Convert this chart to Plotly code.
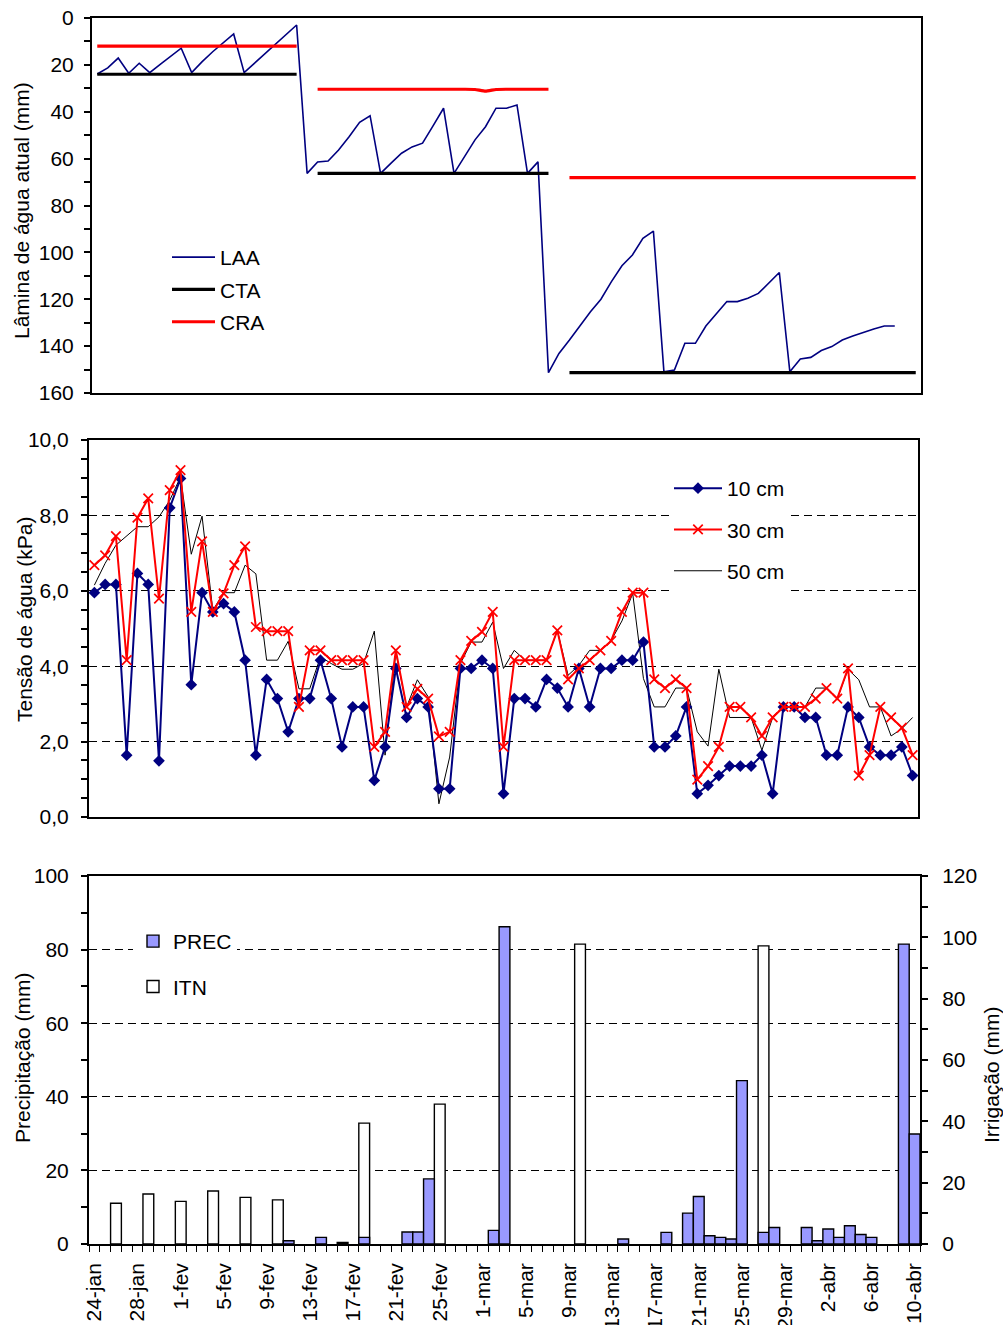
import plotly.graph_objects as go

W, H = 1003, 1325
FONT = "Liberation Sans, Arial, sans-serif"
FS = 21

# ---------------- Data ----------------
# Top panel (79 daily categories)
dia_top = list(range(79))
laa = [23.9, 21.3, 17.1, 23.6, 19.3, 23.3, 19.8, 16.4, 12.9, 23.3,
       18.6, 14.4, 10.5, 6.8, 23.3, 19.2, 15.1, 11.1, 7.0, 3.0,
       66.3, 61.4, 61.0, 56.3, 50.7, 44.5, 41.7, 66.3, 61.9, 57.7,
       55.0, 53.4, 46.0, 38.5, 66.3, 59.2, 52.0, 46.4, 38.5, 38.5,
       37.1, 66.3, 61.4, 151.3, 143.1, 137.4, 131.3, 125.3, 120.0, 112.5,
       105.7, 101.1, 94.0, 90.9, 150.9, 150.2, 138.8, 138.8, 131.4, 126.0,
       121.0, 121.0, 119.6, 117.5, 113.2, 108.6, 150.9, 145.5, 144.8, 141.9,
       140.2, 137.4, 135.7, 134.1, 132.7, 131.4, 131.4]
cta = [24.0, 24.0, 24.0, 24.0, 24.0, 24.0, 24.0, 24.0, 24.0, 24.0,
       24.0, 24.0, 24.0, 24.0, 24.0, 24.0, 24.0, 24.0, 24.0, 24.0,
       None, 66.3, 66.3, 66.3, 66.3, 66.3, 66.3, 66.3, 66.3, 66.3,
       66.3, 66.3, 66.3, 66.3, 66.3, 66.3, 66.3, 66.3, 66.3, 66.3,
       66.3, 66.3, 66.3, 66.3, None, 151.3, 151.3, 151.3, 151.3, 151.3,
       151.3, 151.3, 151.3, 151.3, 151.3, 151.3, 151.3, 151.3, 151.3, 151.3,
       151.3, 151.3, 151.3, 151.3, 151.3, 151.3, 151.3, 151.3, 151.3, 151.3,
       151.3, 151.3, 151.3, 151.3, 151.3, 151.3, 151.3, 151.3, 151.3]
cra = [12.0, 12.0, 12.0, 12.0, 12.0, 12.0, 12.0, 12.0, 12.0, 12.0,
       12.0, 12.0, 12.0, 12.0, 12.0, 12.0, 12.0, 12.0, 12.0, 12.0,
       None, 30.4, 30.4, 30.4, 30.4, 30.4, 30.4, 30.4, 30.4, 30.4,
       30.4, 30.4, 30.4, 30.4, 30.4, 30.4, 30.5, 31.2, 30.5, 30.4,
       30.4, 30.4, 30.4, 30.4, None, 68.1, 68.1, 68.1, 68.1, 68.1,
       68.1, 68.1, 68.1, 68.1, 68.1, 68.1, 68.1, 68.1, 68.1, 68.1,
       68.1, 68.1, 68.1, 68.1, 68.1, 68.1, 68.1, 68.1, 68.1, 68.1,
       68.1, 68.1, 68.1, 68.1, 68.1, 68.1, 68.1, 68.1, 68.1]

# Middle + bottom panels (77 days: 24-jan .. 10-abr)
dias = list(range(77))
t10 = [5.95, 6.17, 6.17, 1.64, 6.46, 6.17, 1.49, 8.2, 8.98, 3.51,
       5.95, 5.44, 5.66, 5.44, 4.16, 1.64, 3.65, 3.14, 2.26, 3.14,
       3.14, 4.16, 3.14, 1.86, 2.92, 2.92, 0.97, 1.86, 3.94, 2.64,
       3.14, 2.92, 0.75, 0.75, 3.94, 3.94, 4.16, 3.94, 0.62, 3.14,
       3.14, 2.92, 3.65, 3.42, 2.92, 3.94, 2.92, 3.94, 3.94, 4.16,
       4.16, 4.64, 1.86, 1.86, 2.15, 2.92, 0.62, 0.84, 1.1, 1.35,
       1.35, 1.35, 1.64, 0.62, 2.92, 2.92, 2.64, 2.64, 1.64, 1.64,
       2.92, 2.64, 1.86, 1.64, 1.64, 1.86, 1.1]
t30 = [6.68, 6.94, 7.45, 4.16, 7.94, 8.45, 5.79, 8.67, 9.2, 5.44,
       7.31, 5.44, 5.93, 6.68, 7.18, 5.04, 4.93, 4.93, 4.93, 2.92,
       4.42, 4.42, 4.16, 4.16, 4.16, 4.16, 1.86, 2.26, 4.42, 2.92,
       3.4, 3.14, 2.14, 2.26, 4.16, 4.67, 4.91, 5.44, 1.86, 4.16,
       4.16, 4.16, 4.16, 4.95, 3.65, 3.94, 4.16, 4.42, 4.67, 5.44,
       5.95, 5.95, 3.65, 3.42, 3.65, 3.42, 0.99, 1.35, 1.86, 2.92,
       2.92, 2.64, 2.15, 2.64, 2.92, 2.92, 2.92, 3.14, 3.42, 3.14,
       3.94, 1.1, 1.64, 2.92, 2.64, 2.37, 1.64]
t50 = [6.15, 6.73, 7.21, 7.45, 7.7, 7.7, 7.96, 8.4, 9.02, 6.97,
       7.98, 5.48, 5.95, 5.95, 6.68, 6.45, 4.16, 4.16, 4.66, 3.4,
       3.4, 4.25, 4.07, 3.92, 3.92, 4.07, 4.93, 1.64, 4.37, 2.92,
       3.64, 3.19, 0.35, 1.59, 4.07, 4.64, 4.64, 5.17, 3.94, 4.42,
       4.16, 4.16, 4.16, 4.95, 3.76, 4.02, 4.42, 4.42, 4.68, 5.2,
       5.93, 3.67, 2.92, 2.92, 3.42, 3.42, 2.26, 1.88, 3.92, 2.64,
       2.64, 2.64, 1.77, 2.64, 2.92, 2.92, 2.92, 3.42, 3.42, 3.14,
       3.92, 3.64, 2.92, 2.92, 2.15, 2.34, 2.64]

prec = [0, 0, 0, 0, 0, 0, 0, 0, 0, 0,
        0, 0, 0, 0, 0, 0, 0, 0, 0.9, 0,
        0, 1.8, 0, 0.4, 0, 1.8, 0, 0, 0, 3.25,
        3.25, 17.7, 0, 0, 0, 0, 0, 3.7, 86.2, 0,
        0, 0, 0, 0, 0, 0, 0, 0, 0, 1.35,
        0, 0, 0, 3.15, 0, 8.4, 12.9, 2.25, 1.8, 1.35,
        44.4, 0, 3.15, 4.5, 0, 0, 4.5, 0.9, 4.07, 1.8,
        4.97, 2.6, 1.8, 0, 0, 81.5, 29.9]
itn = [0, 0, 13.3, 0, 0, 16.3, 0, 0, 13.9, 0,
       0, 17.3, 0, 0, 15.2, 0, 0, 14.4, 0, 0,
       0, 0, 0, 0, 0, 39.4, 0, 0, 0, 0,
       0, 0, 45.6, 0, 0, 0, 0, 0, 0, 0,
       0, 0, 0, 0, 0, 97.8, 0, 0, 0, 0,
       0, 0, 0, 0, 0, 0, 0, 0, 0, 0,
       0, 0, 97.2, 0, 0, 0, 0, 0, 0, 0,
       0, 0, 0, 0, 0, 0, 0]

tick_pos = [0, 4, 8, 12, 16, 20, 24, 28, 32, 36, 40, 44, 48, 52, 56, 60, 64, 68, 72, 76]
tick_lab = ["24-jan", "28-jan", "1-fev", "5-fev", "9-fev", "13-fev", "17-fev",
            "21-fev", "25-fev", "1-mar", "5-mar", "9-mar", "13-mar", "17-mar",
            "21-mar", "25-mar", "29-mar", "2-abr", "6-abr", "10-abr"]

# ---------------- Helpers ----------------
def xd(a, b):
    return [a / W, b / W]

def yd(top, bottom):
    return [1 - bottom / H, 1 - top / H]

NAVY = "#000080"
RED = "#FF0000"

fig = go.Figure()

# Top panel
fig.add_trace(go.Scatter(x=dia_top[:len(laa)], y=laa, name="LAA", mode="lines",
                         line=dict(color=NAVY, width=1.6), xaxis="x", yaxis="y",
                         legend="legend", legendgroup="a"))
fig.add_trace(go.Scatter(x=dia_top, y=cta, name="CTA", mode="lines",
                         line=dict(color="black", width=3.2), xaxis="x", yaxis="y",
                         legend="legend", legendgroup="b"))
fig.add_trace(go.Scatter(x=dia_top, y=cra, name="CRA", mode="lines",
                         line=dict(color=RED, width=3.2, shape="spline", smoothing=0.4),
                         xaxis="x", yaxis="y", legend="legend", legendgroup="c"))

# Middle panel
fig.add_trace(go.Scatter(x=dias, y=t50, name="50 cm", mode="lines",
                         line=dict(color="black", width=1), xaxis="x2", yaxis="y2",
                         legend="legend2", legendgroup="f", legendrank=3))
fig.add_trace(go.Scatter(x=dias, y=t10, name="10 cm", mode="lines+markers",
                         line=dict(color=NAVY, width=2),
                         marker=dict(symbol="diamond", size=9, color=NAVY),
                         xaxis="x2", yaxis="y2", legend="legend2", legendgroup="d", legendrank=1))
fig.add_trace(go.Scatter(x=dias, y=t30, name="30 cm", mode="lines+markers",
                         line=dict(color=RED, width=2),
                         marker=dict(symbol="x-thin", size=9.5, line=dict(color=RED, width=1.7)),
                         xaxis="x2", yaxis="y2", legend="legend2", legendgroup="e", legendrank=2))

# Bottom panel
fig.add_trace(go.Bar(x=dias, y=[v if v else None for v in prec], name="PREC", width=1,
                     marker=dict(color="#9999FF", line=dict(color="black", width=1.4)),
                     xaxis="x3", yaxis="y4", legend="legend3", legendgroup="g", legendrank=1))
fig.add_trace(go.Bar(x=dias, y=[v if v else None for v in itn], name="ITN", width=1,
                     marker=dict(color="white", line=dict(color="black", width=1.4)),
                     xaxis="x3", yaxis="y3", legend="legend3", legendgroup="h", legendrank=2))

tickfont = dict(family=FONT, size=FS, color="black")
axline = dict(showline=True, linecolor="black", linewidth=2, zeroline=False, automargin=False)

fig.update_layout(
    width=W, height=H,
    margin=dict(l=0, r=0, t=0, b=0, autoexpand=False),
    paper_bgcolor="white", plot_bgcolor="white",
    font=dict(family=FONT, size=FS, color="black"),
    separators=",.",
    barmode="overlay",
    showlegend=True,
    xaxis=dict(domain=xd(92, 921), anchor="y", range=[-0.5, 78.5], mirror=True,
               ticks="", showticklabels=False, showgrid=False, **axline),
    yaxis=dict(domain=yd(18, 393), anchor="x", range=[160, 0], dtick=20, mirror=True,
               ticks="outside", ticklen=6, tickwidth=1.5, tickcolor="black",
               minor=dict(dtick=10, ticks="outside", ticklen=6, tickwidth=1.5, tickcolor="black"),
               showgrid=False, tickfont=tickfont, ticklabelstandoff=6, **axline),
    xaxis2=dict(domain=xd(89, 918), anchor="y2", range=[-0.5, 76.5], mirror=True,
                ticks="", showticklabels=False, showgrid=False, **axline),
    yaxis2=dict(domain=yd(440, 817), anchor="x2", range=[0, 10], dtick=2, tickformat=".1f",
                mirror=True, ticks="outside", ticklen=6, tickwidth=1.5, tickcolor="black",
                minor=dict(dtick=0.5, ticks="outside", ticklen=6, tickwidth=1.5, tickcolor="black"),
                showgrid=True, gridcolor="black", gridwidth=1, griddash="8px,5px",
                tickfont=tickfont, ticklabelstandoff=8, **axline),
    xaxis3=dict(domain=xd(89, 920), anchor="y3", range=[-0.5, 76.5], mirror=True,
                tickmode="array", tickvals=tick_pos, ticktext=tick_lab, tickangle=-90,
                ticks="", minor=dict(tick0=0.5, dtick=1, ticks="outside", ticklen=6,
                                     tickwidth=1.2, tickcolor="black"),
                showgrid=False, tickfont=tickfont, ticklabelstandoff=9, automargin=False,
                showline=True, linecolor="black", linewidth=1.5, zeroline=False),
    yaxis3=dict(anchor="x3", domain=yd(876, 1244), side="right", range=[0, 120], dtick=20,
                ticks="outside", ticklen=6, tickwidth=1.5, tickcolor="black",
                minor=dict(dtick=10, ticks="outside", ticklen=6, tickwidth=1.5, tickcolor="black"),
                showgrid=False, tickfont=tickfont, ticklabelstandoff=10, **axline),
    yaxis4=dict(overlaying="y3", anchor="x3", side="left", range=[0, 100], dtick=20,
                ticks="outside", ticklen=6, tickwidth=1.5, tickcolor="black",
                minor=dict(dtick=10, ticks="outside", ticklen=6, tickwidth=1.5, tickcolor="black"),
                showgrid=True, gridcolor="black", gridwidth=1, griddash="8px,5px",
                tickfont=tickfont, ticklabelstandoff=8, **axline),
    legend=dict(x=167 / W, y=1 - 237 / H, xanchor="left", yanchor="top",
                bgcolor="rgba(255,255,255,0)", borderwidth=0, tracegroupgap=2, itemwidth=43,
                font=dict(family=FONT, size=FS), itemclick=False, itemdoubleclick=False),
    legend2=dict(x=669 / W, y=1 - 468 / H, xanchor="left", yanchor="top",
                 bgcolor="white", borderwidth=0, tracegroupgap=11, itemwidth=48,
                 font=dict(family=FONT, size=FS), itemclick=False, itemdoubleclick=False),
    legend3=dict(x=133 / W, y=1 - 921 / H, xanchor="left", yanchor="top",
                 bgcolor="white", borderwidth=0, tracegroupgap=15,
                 font=dict(family=FONT, size=FS), itemclick=False, itemdoubleclick=False),
)

def vtitle(text, xpx, ypx):
    fig.add_annotation(text=text, x=xpx / W, y=1 - ypx / H, xref="paper", yref="paper",
                       textangle=-90, showarrow=False, xanchor="center", yanchor="middle",
                       font=dict(family=FONT, size=FS, color="black"))

vtitle("Lâmina de água atual (mm)", 21, 211)
vtitle("Tensão de água (kPa)", 24, 620)
vtitle("Precipitação (mm)", 22, 1058)
vtitle("Irrigação (mm)", 991, 1075)

fig.write_html("out.html", config={"displayModeBar": False},
               post_script="document.body.style.margin='0';document.body.style.overflow='hidden';")
